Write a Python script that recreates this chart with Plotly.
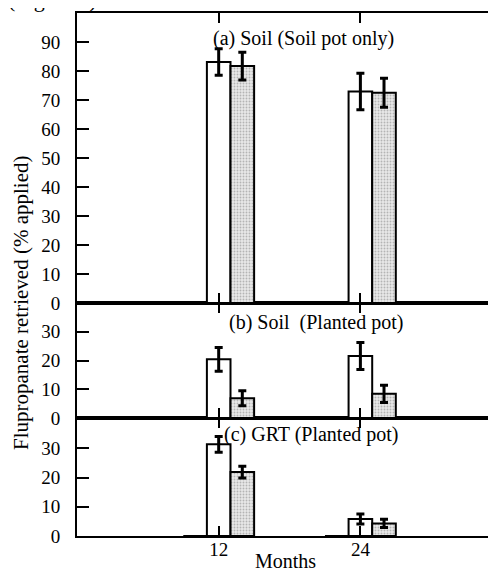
import plotly.graph_objects as go

months = [12, 24]
panel_titles = ["(a) Soil (Soil pot only)", "(b) Soil  (Planted pot)", "(c) GRT (Planted pot)"]

# zero-valued reference series (drawn as flat outline on the baseline)
ref_vals = [[0, 0], [0, 0], [0, 0]]
# open bars
open_vals = [[83.1, 72.9], [20.4, 21.6], [31.4, 5.8]]
open_err = [[4.6, 6.3], [4.1, 4.7], [2.7, 1.7]]
# stippled bars
stip_vals = [[81.7, 72.5], [6.9, 8.4], [21.9, 4.3]]
stip_err = [[4.8, 5.0], [2.6, 3.0], [2.0, 1.4]]

y_ranges = [[0, 100], [0, 40], [0, 40.4]]
y_ticks = [[0, 10, 20, 30, 40, 50, 60, 70, 80, 90], [0, 10, 20, 30], [0, 10, 20, 30]]

FONT = "Liberation Serif, Times New Roman, serif"
TICK_SIZE = 19
TEXT_SIZE = 20

fig = go.Figure()

# panel order: a (top) -> axes x3/y3, b -> x2/y2, c (bottom) -> x/y
axis_ids = [("x3", "y3"), ("x2", "y2"), ("x", "y")]

for i, (xa, ya) in enumerate(axis_ids):
    fig.add_trace(go.Bar(x=months, y=ref_vals[i], xaxis=xa, yaxis=ya,
                         marker=dict(color="white", line=dict(color="black", width=2)),
                         showlegend=False))
    fig.add_trace(go.Bar(x=months, y=open_vals[i], xaxis=xa, yaxis=ya,
                         marker=dict(color="white", line=dict(color="black", width=2)),
                         error_y=dict(type="data", array=open_err[i], color="black",
                                      thickness=3, width=4),
                         showlegend=False))
    fig.add_trace(go.Bar(x=months, y=stip_vals[i], xaxis=xa, yaxis=ya,
                         marker=dict(color="white", line=dict(color="black", width=2),
                                     pattern=dict(shape=".", fgcolor="#808080",
                                                  bgcolor="#e8e8e8", size=3, solidity=0.3)),
                         error_y=dict(type="data", array=stip_err[i], color="black",
                                      thickness=3, width=4),
                         showlegend=False))

# pixel layout (page body has an 8px default margin, so the figure is offset by 8px)
OFF = 8
W, H = 496 - OFF, 571 - OFF
plot_left, plot_right, plot_top, plot_bottom = 77, 495, 13, 536  # in screen pixels
ml = plot_left - OFF
mr = W - (plot_right - OFF)
mt = plot_top - OFF
mb = H - (plot_bottom - OFF)
ph = plot_bottom - plot_top  # 523
pw = plot_right - plot_left
dom_c = [0, 118 / ph]
dom_b = [118 / ph, 233 / ph]
dom_a = [233 / ph, 1]
domains = [dom_a, dom_b, dom_c]

xcommon = dict(range=[0, 35.4], tickvals=months, ticks="inside", ticklen=10,
               tickwidth=2, tickcolor="black", showline=True, linecolor="black",
               linewidth=1.5, mirror="ticks", showgrid=False, zeroline=False,
               automargin=False)

layout = dict(
    width=W, height=H,
    margin=dict(l=ml, r=mr, t=mt, b=mb, autoexpand=False),
    paper_bgcolor="white", plot_bgcolor="white",
    font=dict(family=FONT, size=TICK_SIZE, color="black"),
    barmode="group", bargap=0.5, bargroupgap=0,
    showlegend=False,
)

layout["xaxis"] = dict(xcommon, anchor="y", domain=[0, 1], ticklabelstandoff=-5,
                       tickfont=dict(family=FONT, size=TICK_SIZE))
layout["xaxis2"] = dict(xcommon, anchor="y2", matches="x", showticklabels=False)
layout["xaxis3"] = dict(xcommon, anchor="y3", matches="x", showticklabels=False)

yn = ["yaxis3", "yaxis2", "yaxis"]
xn = ["x3", "x2", "x"]
right_names = ["yaxis6", "yaxis5", "yaxis4"]
for i in range(3):
    layout[yn[i]] = dict(domain=domains[i], anchor=xn[i], range=y_ranges[i],
                         tickvals=y_ticks[i], ticks="inside", ticklen=12, tickwidth=2,
                         tickcolor="black", showline=True, linecolor="black", linewidth=2,
                         mirror=True, showgrid=False, zeroline=False,
                         ticklabelstandoff=11, automargin=False,
                         tickfont=dict(family=FONT, size=TICK_SIZE))
    ov = yn[i].replace("axis", "")
    layout[right_names[i]] = dict(overlaying=ov, anchor=xn[i], side="right",
                                  range=y_ranges[i], tickvals=y_ticks[i][1:],
                                  ticks="inside", ticklen=6, tickwidth=2, tickcolor="black",
                                  showticklabels=False, showgrid=False, zeroline=False,
                                  showline=False, automargin=False)

fig.update_layout(**layout)

# invisible traces to activate right overlay axes
for i, rn in enumerate(right_names):
    fig.add_trace(go.Scatter(x=[months[0]], y=[0], xaxis=xn[i], yaxis=rn.replace("axis", ""),
                             mode="markers", marker=dict(opacity=0), hoverinfo="skip",
                             showlegend=False))

def px_to_paper_x(px):
    return (px - plot_left) / pw

def px_to_paper_y(py):
    return (plot_bottom - py) / ph

ann_pos = [(303, 38), (316, 322), (311, 435)]
for t, (px, py) in zip(panel_titles, ann_pos):
    fig.add_annotation(text=t, xref="paper", yref="paper",
                       x=px_to_paper_x(px), y=px_to_paper_y(py),
                       xanchor="center", yanchor="middle", showarrow=False,
                       font=dict(family=FONT, size=TEXT_SIZE, color="black"))

fig.add_annotation(text="Months", xref="paper", yref="paper",
                   x=px_to_paper_x(285), y=px_to_paper_y(561),
                   xanchor="center", yanchor="middle", showarrow=False,
                   font=dict(family=FONT, size=TEXT_SIZE, color="black"))

fig.add_annotation(text="Flupropanate retrieved (% applied)", xref="paper", yref="paper",
                   x=px_to_paper_x(21), y=px_to_paper_y(303), textangle=-90,
                   xanchor="center", yanchor="middle", showarrow=False,
                   font=dict(family=FONT, size=21, color="black"))

fig.add_annotation(text="(Figure 1).", xref="paper", yref="paper",
                   x=px_to_paper_x(6), y=px_to_paper_y(14),
                   xanchor="left", yanchor="bottom", showarrow=False,
                   font=dict(family=FONT, size=22, color="black"))

fig.write_html("out.html")
